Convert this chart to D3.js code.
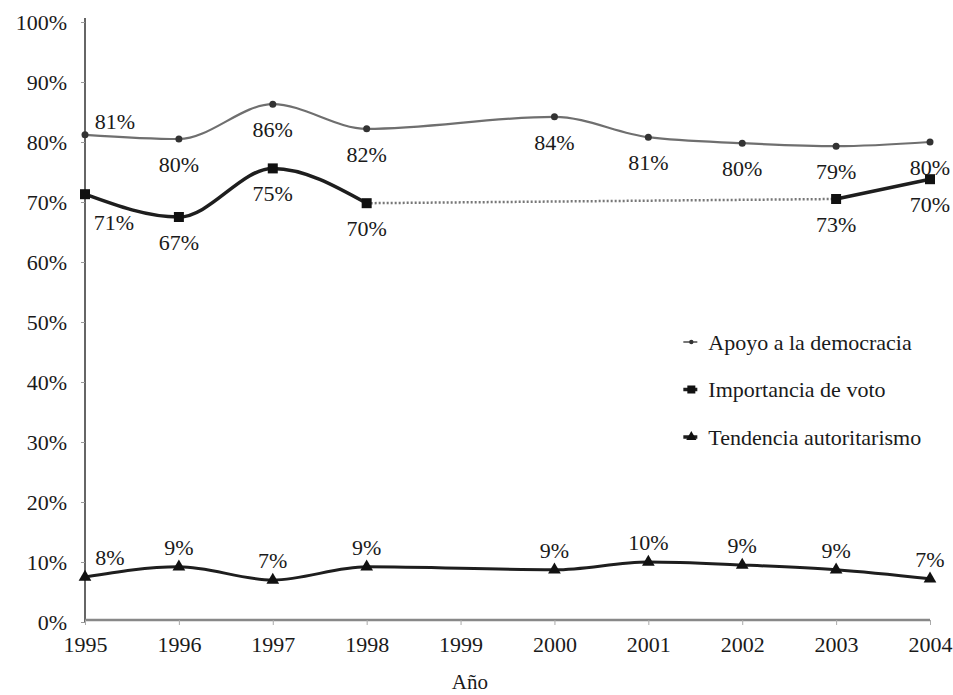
<!DOCTYPE html>
<html>
<head>
<meta charset="utf-8">
<script src="https://cdn.jsdelivr.net/npm/d3@7"></script>
<style>
  body { margin: 0; background: #fff; }
  text { font-family: "Liberation Serif", "DejaVu Serif", serif; fill: #1a1a1a; }
</style>
</head>
<body>
<svg id="chart" width="953" height="695"></svg>
<script>
  // Datos
  var years = [1995, 1996, 1997, 1998, 1999, 2000, 2001, 2002, 2003, 2004];
  var yTicks = [0, 10, 20, 30, 40, 50, 60, 70, 80, 90, 100];

  var apoyo = [81.2, 80.5, 86.3, 82.2, null, 84.2, 80.8, 79.8, 79.3, 80];
  var apoyoLabels = ["81%", "80%", "86%", "82%", null, "84%", "81%", "80%", "79%", "80%"];

  var voto = [71.3, 67.5, 75.6, 69.8, null, null, null, null, 70.5, 73.8];
  var votoLabels = ["71%", "67%", "75%", "70%", null, null, null, null, "73%", "70%"];

  var autoritarismo = [7.5, 9.2, 7.0, 9.2, null, 8.7, 10, 9.5, 8.7, 7.2];
  var autoritarismoLabels = ["8%", "9%", "7%", "9%", null, "9%", "10%", "9%", "9%", "7%"];

  var legendNames = ["Apoyo a la democracia", "Importancia de voto", "Tendencia autoritarismo"];

  /***** Configuración *****/
  var margin = { top: 22, right: 23, bottom: 73, left: 85 };
  var svg = d3.select("#chart");
  var width = 953 - margin.left - margin.right;
  var height = 695 - margin.top - margin.bottom;

  var x = d3.scalePoint().domain(years).range([0, width]);
  var y = d3.scaleLinear().domain([0, 100]).range([height, 0]);

  var g = svg.append("g")
    .attr("transform", "translate(" + margin.left + "," + margin.top + ")");

  // Ejes
  var yAxis = d3.axisLeft(y).tickValues(yTicks).tickSize(4).tickFormat(function(d) { return d + "%"; });
  var xAxis = d3.axisBottom(x).tickSize(5).tickPadding(11);

  var gy = g.append("g").attr("class", "y axis").call(yAxis);
  gy.select(".domain").attr("d", "M0," + (-4) + "V" + height).attr("stroke", "#666").attr("stroke-width", 2);
  gy.selectAll(".tick line").attr("stroke", "#999");
  gy.selectAll(".tick text").attr("x", -18).style("font-size", "22px")
    .style("font-family", "Liberation Serif, serif");

  var gx = g.append("g").attr("class", "x axis")
    .attr("transform", "translate(0," + (height - 2) + ")")
    .call(xAxis);
  gx.select(".domain").attr("d", "M0,0H" + width).attr("stroke", "#888").attr("stroke-width", 2.5);
  gx.selectAll(".tick line").attr("stroke", "#aaa");
  gx.selectAll(".tick text").style("font-size", "22px")
    .style("font-family", "Liberation Serif, serif");

  g.append("text")
    .attr("x", x(1998) + (x(1999) - x(1998)) * 1.1)
    .attr("y", height + 60)
    .attr("text-anchor", "middle")
    .attr("dy", "0.35em")
    .style("font-size", "21px")
    .text("Año");

  function series(vals) {
    return years.map(function(yr, i) { return { year: yr, v: vals[i] }; })
      .filter(function(d) { return d.v !== null; });
  }

  var line = d3.line()
    .x(function(d) { return x(d.year); })
    .y(function(d) { return y(d.v); })
    .curve(d3.curveMonotoneX);

  // Apoyo a la democracia
  var apoyoData = series(apoyo);
  g.append("path").datum(apoyoData)
    .attr("fill", "none").attr("stroke", "#6f6f6f").attr("stroke-width", 2.2)
    .attr("d", line);
  g.selectAll(".pt-apoyo").data(apoyoData).enter().append("circle")
    .attr("cx", function(d) { return x(d.year); })
    .attr("cy", function(d) { return y(d.v); })
    .attr("r", 3.5).attr("fill", "#333");

  // Importancia de voto: tramos sólidos y tramo punteado
  var votoData = series(voto);
  var votoA = votoData.filter(function(d) { return d.year <= 1998; });
  var votoB = votoData.filter(function(d) { return d.year >= 2003; });
  var votoGap = votoData.filter(function(d) { return d.year === 1998 || d.year === 2003; });
  g.append("path").datum(votoGap)
    .attr("fill", "none").attr("stroke", "#777").attr("stroke-width", 2.5)
    .attr("stroke-dasharray", "2,2")
    .attr("d", d3.line().x(function(d) { return x(d.year); }).y(function(d) { return y(d.v); }));
  [votoA, votoB].forEach(function(part) {
    g.append("path").datum(part)
      .attr("fill", "none").attr("stroke", "#1e1e1e").attr("stroke-width", 3.5)
      .attr("d", line);
  });
  g.selectAll(".pt-voto").data(votoData).enter().append("rect")
    .attr("x", function(d) { return x(d.year) - 5; })
    .attr("y", function(d) { return y(d.v) - 5; })
    .attr("width", 10).attr("height", 10).attr("fill", "#111");

  // Tendencia autoritarismo
  var autData = series(autoritarismo);
  g.append("path").datum(autData)
    .attr("fill", "none").attr("stroke", "#1e1e1e").attr("stroke-width", 3)
    .attr("d", line);
  var tri = d3.symbol().type(d3.symbolTriangle).size(70);
  g.selectAll(".pt-aut").data(autData).enter().append("path")
    .attr("transform", function(d) { return "translate(" + x(d.year) + "," + y(d.v) + ")"; })
    .attr("d", tri).attr("fill", "#111");

  // Etiquetas de valores
  function labels(vals, texts, dy, first) {
    years.forEach(function(yr, i) {
      if (texts[i] === null) return;
      var px = x(yr), py = y(vals[i]) + dy;
      if (i === 0) { px += first[0]; py += first[1]; }
      g.append("text")
        .attr("x", px).attr("y", py)
        .attr("text-anchor", "middle")
        .attr("dy", "0.35em")
        .style("font-size", "22px")
        .text(texts[i]);
    });
  }
  labels(apoyo, apoyoLabels, 25, [30, -39]);
  labels(voto, votoLabels, 25, [29, 3]);
  labels(autoritarismo, autoritarismoLabels, -20, [25, 0]);

  // Leyenda
  var legend = g.append("g").attr("class", "legend")
    .attr("transform", "translate(" + (x(2001) + 52) + "," + 320 + ")");
  var legendItems = legend.selectAll("g").data(legendNames).enter().append("g")
    .attr("transform", function(d, i) { return "translate(0," + (i * 47.5) + ")"; });
  legendItems.append("line")
    .attr("x1", -17).attr("x2", -3).attr("y1", 0).attr("y2", 0)
    .attr("stroke", function(d, i) { return i === 0 ? "#777" : "#1e1e1e"; })
    .attr("stroke-width", function(d, i) { return i === 0 ? 2 : 3.5; });
  legendItems.each(function(d, i) {
    var it = d3.select(this);
    if (i === 0) it.append("circle").attr("cx", -9).attr("r", 2.2).attr("fill", "#333");
    if (i === 1) it.append("rect").attr("x", -13).attr("y", -4).attr("width", 8).attr("height", 8).attr("fill", "#111");
    if (i === 2) it.append("path").attr("transform", "translate(-9,0)").attr("d", d3.symbol().type(d3.symbolTriangle).size(45)()).attr("fill", "#111");
  });
  legendItems.append("text")
    .attr("x", 8).attr("dy", "0.35em")
    .style("font-size", "22px")
    .text(function(d) { return d; });
</script>
</body>
</html>
